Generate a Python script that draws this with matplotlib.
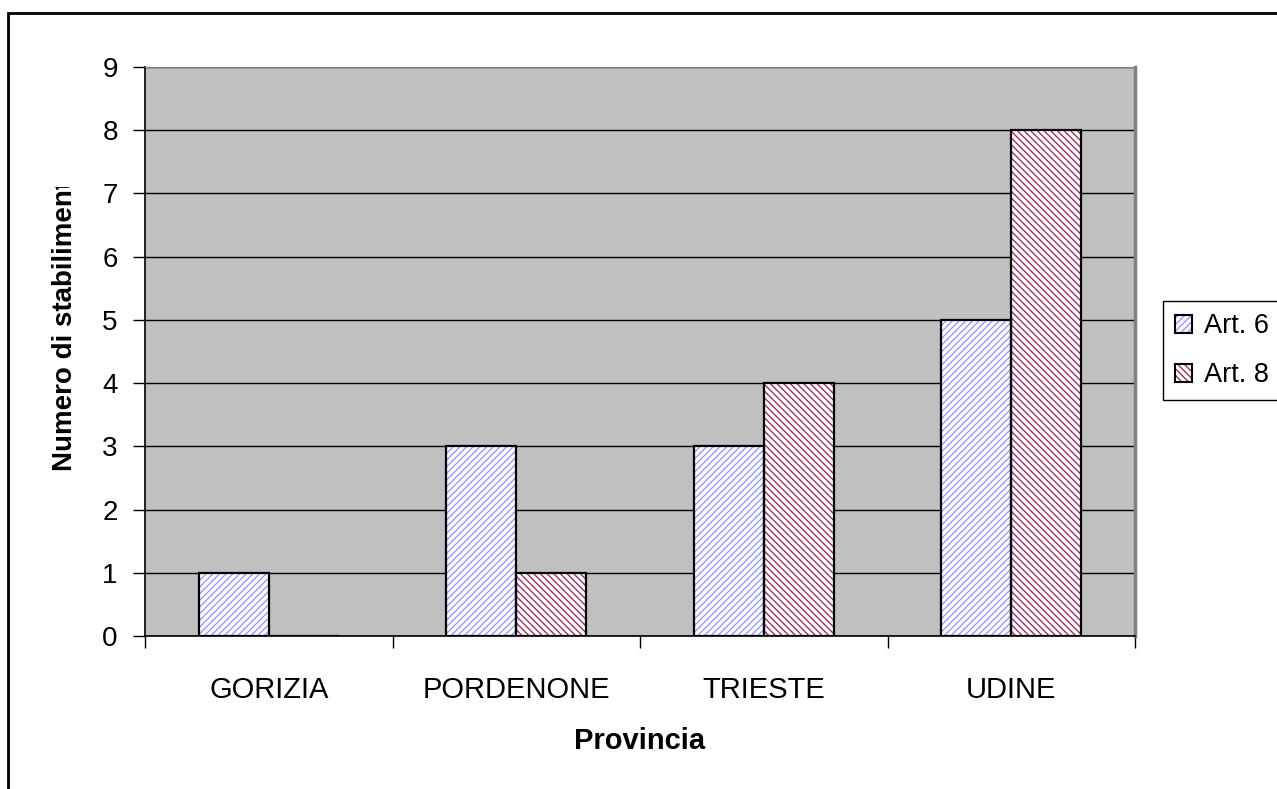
import numpy as np
import matplotlib.pyplot as plt
from matplotlib.patches import Patch, Rectangle
from matplotlib.legend_handler import HandlerTuple
from matplotlib.transforms import Bbox

plt.rcParams['font.family'] = ['Liberation Sans', 'DejaVu Sans']
plt.rcParams['hatch.linewidth'] = 1.0

# Numero di stabilimenti per provincia
province = ['GORIZIA', 'PORDENONE', 'TRIESTE', 'UDINE']
art6 = [1, 3, 3, 5]
art8 = [0, 1, 4, 8]
serie = ['Art. 6', 'Art. 8']
colori = ['#9999FF', '#993366']
tratteggi = ['/////', '\\\\\\\\\\']

W, H = 1277, 789
fig = plt.figure(figsize=(W / 100, H / 100), dpi=100)
ax = fig.add_axes([145 / W, 1 - 636 / H, (1135 - 145) / W, (636 - 67) / H])
ax.set_facecolor('#C0C0C0')

x = np.arange(len(province))
w = 0.283
handles = []
for k, (vals, col, hatch) in enumerate(zip([art6, art8], colori, tratteggi)):
    pos = x - w / 2 if k == 0 else x + w / 2
    ax.bar(pos, vals, w, color='white', edgecolor=col, hatch=hatch, linewidth=0, zorder=2)
    ax.bar(pos, vals, w, fill=False, edgecolor='black', linewidth=1.6, zorder=3)
    handles.append((Patch(facecolor='white', edgecolor=col, hatch=hatch, linewidth=0),
                    Patch(fill=False, edgecolor='black', linewidth=1.5)))

ax.set_xlim(-0.5, len(province) - 0.5)
ax.set_ylim(0, 9)
ax.set_yticks(range(0, 10))
ax.yaxis.grid(True, color='black', linewidth=1)
ax.set_axisbelow(True)

# tick marks at category boundaries, labels at category centres
ax.set_xticks(np.arange(-0.5, len(province), 1))
ax.set_xticklabels([])
ax.set_xticks(x, minor=True)
ax.set_xticklabels(province, minor=True)
ax.tick_params(axis='x', which='minor', length=0, pad=29, labelsize=21)
ax.tick_params(axis='x', which='major', length=8.6, width=1, color='black')
ax.tick_params(axis='y', length=8.6, width=1, pad=11, labelsize=20)

for s in ['left', 'bottom']:
    ax.spines[s].set_color('black')
    ax.spines[s].set_linewidth(1.2)
ax.spines['top'].set_color('#808080')
ax.spines['right'].set_color('#808080')
ax.spines['right'].set_linewidth(2.5)

fig.text(640 / W, 1 - 741 / H, 'Provincia', ha='center', va='center',
         fontsize=21, fontweight='bold')

ylab = fig.text(65 / W, 1 - 471 / H, 'Numero di stabilimenti', rotation=90,
                ha='center', va='bottom', fontsize=20, fontweight='bold')
ylab.set_clip_on(True)
ylab.set_clip_box(Bbox.from_extents(0, 0, W, H - 187))

leg = fig.legend(handles, serie, handler_map={tuple: HandlerTuple(ndivide=1, pad=0)},
                 loc='upper left', bbox_to_anchor=(1163 / W, 1 - 301 / H),
                 fontsize=19.5, fancybox=False, framealpha=1, edgecolor='black',
                 handlelength=0.63, handleheight=0.63, handletextpad=0.44,
                 borderpad=0.45, labelspacing=0.85, borderaxespad=0)
leg.get_frame().set_linewidth(1)

# chart area frame
fig.patches.append(Rectangle((8 / W, -0.1), 1.2, 1 - 13 / H + 0.1, transform=fig.transFigure,
                             fill=False, edgecolor='black', linewidth=2))

fig.savefig('out.png', dpi=100)
